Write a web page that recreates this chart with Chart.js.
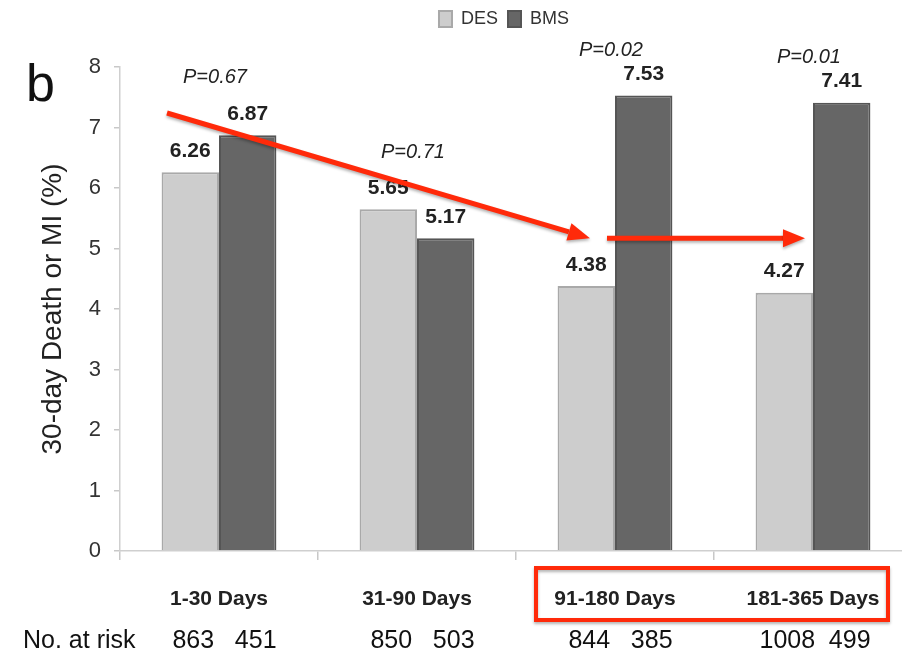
<!DOCTYPE html>
<html>
<head>
<meta charset="utf-8">
<script src="https://cdn.jsdelivr.net/npm/chart.js@4.4.1/dist/chart.umd.min.js"></script>
<style>
  html, body { margin: 0; padding: 0; background: #fff; overflow: hidden; }
  #wrap { width: 912px; height: 659px; position: relative; }
</style>
</head>
<body>
<div id="wrap"><canvas id="chart"></canvas></div>
<script>
const categories = ['1-30 Days', '31-90 Days', '91-180 Days', '181-365 Days'];
const desValues = [6.26, 5.65, 4.38, 4.27];
const bmsValues = [6.87, 5.17, 7.53, 7.41];
const pValues = ['0.67', '0.71', '0.02', '0.01'];
const desAtRisk = [863, 850, 844, 1008];
const bmsAtRisk = [451, 503, 385, 499];
const yTicks = [0, 1, 2, 3, 4, 5, 6, 7, 8];

const FONT = '"Liberation Sans", Arial, sans-serif';
const RED = '#ff2a0a';

function arrow(ctx, x1, y1, x2, y2) {
    const ang = Math.atan2(y2 - y1, x2 - x1);
    const head = 22, half = 9;
    const bx = x2 - head * Math.cos(ang), by = y2 - head * Math.sin(ang);
    ctx.beginPath();
    ctx.moveTo(x1, y1);
    ctx.lineTo(bx, by);
    ctx.stroke();
    ctx.beginPath();
    ctx.moveTo(x2, y2);
    ctx.lineTo(bx + half * Math.sin(ang), by - half * Math.cos(ang));
    ctx.lineTo(bx - half * Math.sin(ang), by + half * Math.cos(ang));
    ctx.closePath();
    ctx.fill();
}

// extra room under the legend, and nudge it a little left
const legendSpacer = {
    id: 'legendSpacer',
    beforeInit(chart) {
        const fit = chart.legend.fit;
        chart.legend.fit = function () {
            fit.bind(chart.legend)();
            this.height += 29;
        };
    },
    afterLayout(chart) {
        chart.legend.left -= 12;
        chart.legend.right -= 12;
    }
};

// labels, p-values, arrows, at-risk row
const annotations = {
    id: 'annotations',
    afterDraw(chart) {
        const ctx = chart.ctx;
        const xs = chart.scales.x, ys = chart.scales.y;
        const area = chart.chartArea;
        ctx.save();
        ctx.textAlign = 'center';
        ctx.textBaseline = 'middle';

        // values above bars
        ctx.font = 'bold 21px ' + FONT;
        ctx.fillStyle = '#222';
        chart.data.datasets.forEach((ds, i) => {
            chart.getDatasetMeta(i).data.forEach((bar, j) => {
                ctx.fillText(ds.data[j].toFixed(2), bar.x, bar.y - 21);
            });
        });

        // p values
        const pOffsets = [58, 57, 45, 45];
        ctx.font = 'italic 20px ' + FONT;
        pValues.forEach((p, j) => {
            const top = ys.getPixelForValue(Math.max(desValues[j], bmsValues[j]));
            ctx.fillText('P=' + p, xs.getPixelForValue(j) - 4, top - pOffsets[j]);
        });

        // number at risk
        ctx.font = '25px ' + FONT;
        ctx.fillStyle = '#111';
        const rowY = area.bottom + 90;
        ctx.textAlign = 'left';
        ctx.fillText('No. at risk', 23, rowY);
        ctx.textAlign = 'center';
        const desMeta = chart.getDatasetMeta(0).data;
        const bmsMeta = chart.getDatasetMeta(1).data;
        desAtRisk.forEach((n, j) => ctx.fillText(String(n), desMeta[j].x + 3, rowY));
        bmsAtRisk.forEach((n, j) => ctx.fillText(String(n), bmsMeta[j].x + 8, rowY));

        // panel letter
        ctx.font = '52px ' + FONT;
        ctx.textAlign = 'left';
        ctx.textBaseline = 'alphabetic';
        ctx.fillStyle = '#111';
        ctx.fillText('b', 26, 101);

        // red box around the last two periods
        ctx.strokeStyle = RED;
        ctx.fillStyle = RED;
        ctx.shadowColor = 'rgba(0,0,0,0.3)';
        ctx.shadowBlur = 3;
        ctx.shadowOffsetY = 2;
        ctx.lineWidth = 4;
        const bl = xs.getPixelForValue(2) - 79, br = xs.getPixelForValue(3) + 75;
        ctx.strokeRect(bl, area.bottom + 17, br - bl, 52);

        // arrows
        ctx.lineWidth = 5;
        arrow(ctx, xs.getPixelForValue(0) - 52, ys.getPixelForValue(7.24),
              xs.getPixelForValue(2) - 25, ys.getPixelForValue(5.17));
        arrow(ctx, xs.getPixelForValue(2) - 8, ys.getPixelForValue(5.17),
              xs.getPixelForValue(3) - 8, ys.getPixelForValue(5.17));
        ctx.restore();
    }
};

const ctx = document.getElementById('chart').getContext('2d');
new Chart(ctx, {
    type: 'bar',
    data: {
        labels: categories,
        datasets: [{
            label: 'DES',
            data: desValues,
            backgroundColor: '#cdcdcd',
            borderColor: '#a9a9a9',
            borderWidth: 2
        }, {
            label: 'BMS',
            data: bmsValues,
            backgroundColor: '#666666',
            borderColor: '#555555',
            borderWidth: 2
        }]
    },
    options: {
        responsive: true,
        maintainAspectRatio: false,
        animation: false,
        layout: { padding: { top: 0, left: 0, right: 0, bottom: 0 } },
        datasets: { bar: { categoryPercentage: 0.58, barPercentage: 1.0 } },
        plugins: {
            legend: {
                position: 'top',
                fullSize: false,
                labels: {
                    boxWidth: 13,
                    boxHeight: 16,
                    padding: 10,
                    color: '#333',
                    font: { family: FONT, size: 18 }
                }
            },
            tooltip: { enabled: false }
        },
        scales: {
            x: {
                afterFit: s => { s.height = 108; },
                grid: { drawOnChartArea: false, drawTicks: true, tickLength: 9, color: '#c8c8c8', lineWidth: 1.5 },
                border: { color: '#cfcfcf', width: 1.5 },
                ticks: { color: '#222', padding: 27, font: { family: FONT, size: 21, weight: 'bold' } }
            },
            y: {
                min: 0,
                max: 8,
                afterFit: s => { s.width = 120; },
                afterBuildTicks: s => { s.ticks = yTicks.map(v => ({ value: v })); },
                grid: { drawOnChartArea: false, drawTicks: true, tickLength: 6, color: '#c8c8c8', lineWidth: 1.5 },
                border: { color: '#cfcfcf', width: 1.5 },
                ticks: { color: '#333', padding: 13, font: { family: FONT, size: 22 } },
                title: {
                    display: true,
                    text: '30-day Death or MI (%)',
                    color: '#222',
                    padding: { top: 36, bottom: 0 },
                    font: { family: FONT, size: 28 }
                }
            }
        }
    },
    plugins: [legendSpacer, annotations]
});
</script>
</body>
</html>
